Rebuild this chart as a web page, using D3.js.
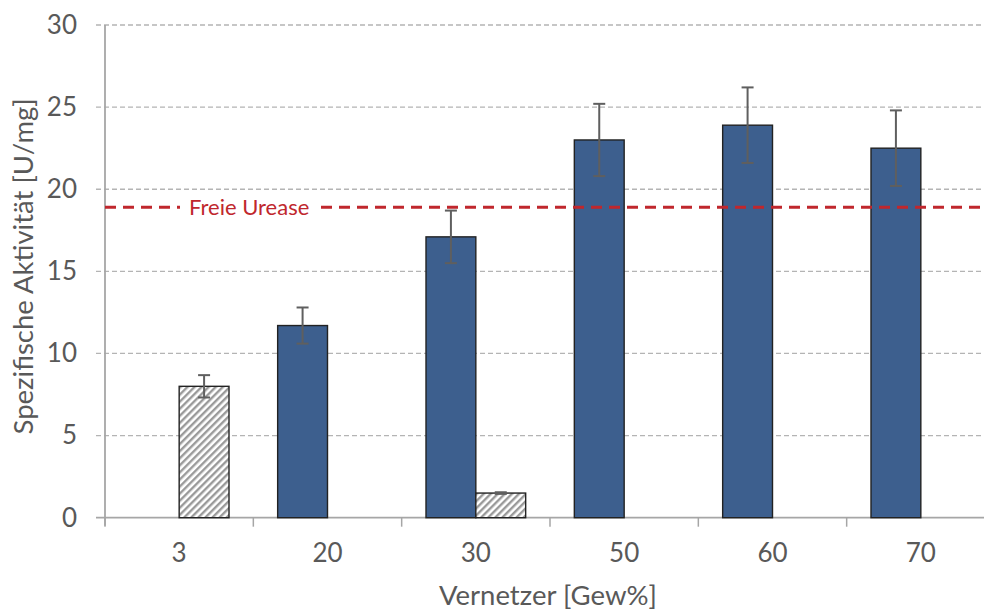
<!DOCTYPE html>
<html>
<head>
<meta charset="utf-8">
<script src="https://cdn.jsdelivr.net/npm/d3@7"></script>
<style>
  body { margin: 0; background: #fff; }
  svg { display: block; font-family: Lato, "Open Sans", sans-serif; }
</style>
</head>
<body>
<svg id="chart" width="984" height="612"></svg>
<script>
const categories = ["3", "20", "30", "50", "60", "70"];
const seriesNames = ["blau", "schraffiert"];
const blueValues = [null, 11.7, 17.1, 23.0, 23.9, 22.5];
const blueErrors = [null, 1.1, 1.6, 2.2, 2.3, 2.3];
const hatchValues = [8.0, null, 1.5, null, null, null];
const hatchErrors = [0.68, null, 0.05, null, null, null];
const yTicks = [0, 5, 10, 15, 20, 25, 30];
const refValue = 18.9;
const refLabel = "Freie Urease";
const xTitle = "Vernetzer [Gew%]";
const yTitle = "Spezifische Aktivität [U/mg]";

const svg = d3.select("#chart");
const margin = {left: 105, top: 25, bottom: 94};
const W = 984, H = 612;
const plotRight = 995;

const x = d3.scaleBand().domain(categories).range([margin.left, plotRight]).paddingInner(0).paddingOuter(0);
const bw = x.bandwidth();
const barW = bw * 0.336;
const xs = d3.scaleBand().domain(seriesNames).range([bw / 2 - barW, bw / 2 + barW]);
const y = d3.scaleLinear().domain([0, 30]).range([H - margin.bottom - 0.3, margin.top]);

// hatch pattern
const defs = svg.append("defs");
const pat = defs.append("pattern").attr("id", "hatch").attr("patternUnits", "userSpaceOnUse")
  .attr("width", 5).attr("height", 5).attr("patternTransform", "rotate(45)");
pat.append("rect").attr("width", 5).attr("height", 5).attr("fill", "#ffffff");
pat.append("rect").attr("x", 0).attr("y", 0).attr("width", 2.4).attr("height", 5).attr("fill", "#9a9a9a");

// grid lines
svg.append("g").selectAll("line").data(yTicks.filter(d => d > 0)).join("line")
  .attr("x1", 96).attr("x2", W).attr("y1", d => y(d)).attr("y2", d => y(d))
  .attr("stroke", "#b4b4b4").attr("stroke-width", 1.3).attr("stroke-dasharray", "5,3");

// y axis
const yAxis = d3.axisLeft(y).tickValues(yTicks).tickSize(0).tickPadding(28);
const gy = svg.append("g").attr("transform", `translate(${margin.left},0)`).call(yAxis);
gy.select(".domain").remove();
gy.selectAll("text").attr("font-size", 26).attr("fill", "#595959").attr("font-family", "Lato");
svg.append("line").attr("x1", margin.left).attr("x2", margin.left).attr("y1", y(30)).attr("y2", y(0) + 8)
  .attr("stroke", "#a6a6a6").attr("stroke-width", 1.8);

// x axis
const xTickPos = categories.map(c => x(c)).concat([plotRight]);
svg.append("line").attr("x1", 96).attr("x2", W).attr("y1", y(0)).attr("y2", y(0))
  .attr("stroke", "#a6a6a6").attr("stroke-width", 1.8);
svg.append("g").selectAll("line").data(xTickPos).join("line")
  .attr("x1", d => d).attr("x2", d => d).attr("y1", y(0)).attr("y2", y(0) + 9)
  .attr("stroke", "#a6a6a6").attr("stroke-width", 1.5);
const xAxis = d3.axisBottom(x).tickSize(0).tickPadding(26);
const gx = svg.append("g").attr("transform", `translate(0,${y(0)})`).call(xAxis);
gx.select(".domain").remove();
gx.selectAll("text").attr("font-size", 26).attr("fill", "#595959").attr("font-family", "Lato");

// bars
function drawSeries(vals, errs, name, fill) {
  const data = categories.map((c, i) => ({c, v: vals[i], e: errs[i]})).filter(d => d.v != null);
  const g = svg.append("g");
  g.selectAll("rect").data(data).join("rect")
    .attr("x", d => x(d.c) + xs(name)).attr("width", xs.bandwidth())
    .attr("y", d => y(d.v)).attr("height", d => y(0) - y(d.v))
    .attr("fill", fill).attr("stroke", "#222222").attr("stroke-width", 1.4);
  const eg = svg.append("g").attr("stroke", "#5f5f5f").attr("stroke-width", 2);
  data.forEach(d => {
    const cx = x(d.c) + xs(name) + xs.bandwidth() / 2;
    eg.append("line").attr("x1", cx).attr("x2", cx).attr("y1", y(d.v + d.e)).attr("y2", y(d.v - d.e));
    eg.append("line").attr("x1", cx - 6).attr("x2", cx + 6).attr("y1", y(d.v + d.e)).attr("y2", y(d.v + d.e));
    eg.append("line").attr("x1", cx - 6).attr("x2", cx + 6).attr("y1", y(d.v - d.e)).attr("y2", y(d.v - d.e));
  });
}
drawSeries(blueValues, blueErrors, "blau", "#3d5f8e");
drawSeries(hatchValues, hatchErrors, "schraffiert", "url(#hatch)");

// reference line
svg.append("line").attr("x1", margin.left).attr("x2", W).attr("y1", y(refValue)).attr("y2", y(refValue))
  .attr("stroke", "#c0272d").attr("stroke-width", 3).attr("stroke-dasharray", "11,7");
const lblBg = svg.append("rect").attr("fill", "#ffffff");
const lbl = svg.append("text").attr("x", 189).attr("y", y(refValue)).attr("dy", "0.35em")
  .attr("font-size", 22).attr("fill", "#c0272d").attr("font-family", "Lato").text(refLabel);
const bb = lbl.node().getBBox();
lblBg.attr("x", bb.x - 9).attr("y", bb.y - 2).attr("width", bb.width + 16).attr("height", bb.height + 4);

// titles
svg.append("text").attr("x", (margin.left + plotRight) / 2 - 2).attr("y", 595).attr("dy", "0.35em")
  .attr("text-anchor", "middle").attr("font-size", 27.5).attr("fill", "#595959").text(xTitle);
svg.append("text").attr("transform", `translate(23,${(y(0) + y(30)) / 2 - 5}) rotate(-90)`)
  .attr("dy", "0.35em").attr("text-anchor", "middle").attr("font-size", 27.5).attr("fill", "#595959").text(yTitle);
</script>
</body>
</html>
